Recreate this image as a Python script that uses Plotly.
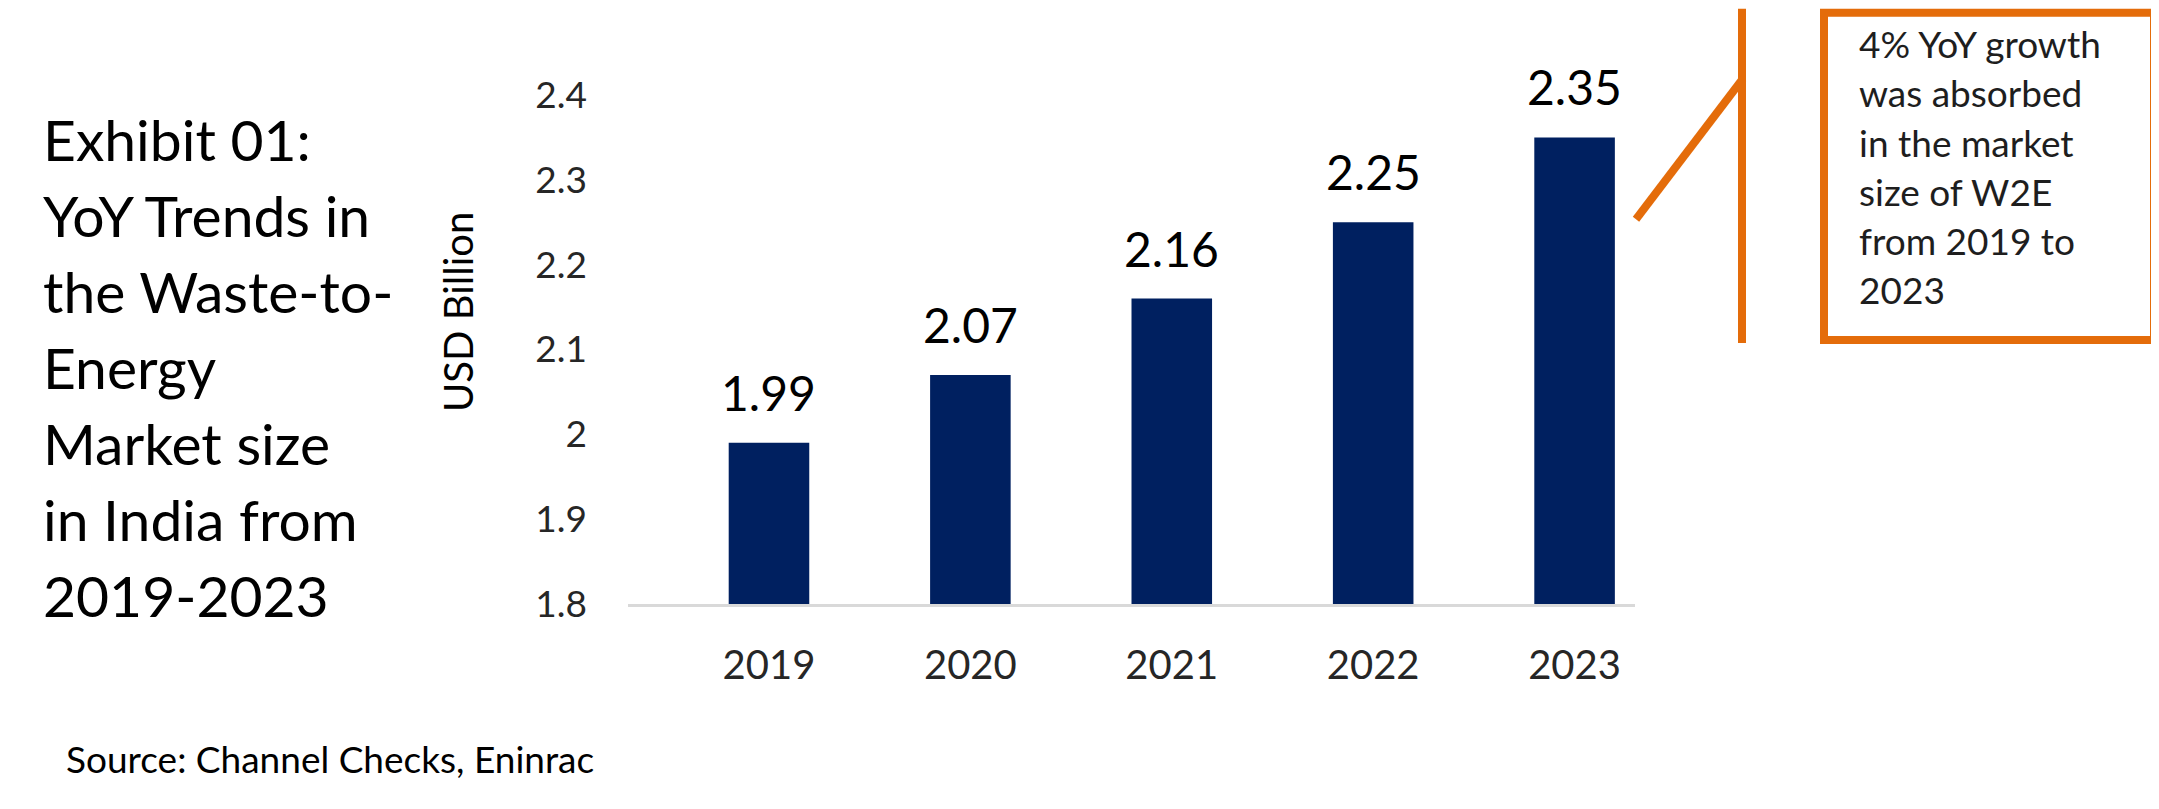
import plotly.graph_objects as go

# ---- data ----
years = ["2019", "2020", "2021", "2022", "2023"]
market_size = [1.99, 2.07, 2.16, 2.25, 2.35]
y_tick_vals = [1.8, 1.9, 2.0, 2.1, 2.2, 2.3, 2.4]
y_tick_text = ["1.8", "1.9", "2", "2.1", "2.2", "2.3", "2.4"]
title_lines = ["Exhibit 01:", "YoY Trends in", "the Waste-to-", "Energy",
               "Market size", "in India from", "2019-2023"]
note_lines = ["4% YoY growth", "was absorbed", "in the market",
              "size of W2E", "from 2019 to", "2023"]
y_title = "USD Billion"
source_text = "Source: Channel Checks, Eninrac"

# ---- layout geometry (page pixels; page has an 8px body margin) ----
W, H = 2159, 809
OFF = 8
L, R, T, B = 628, 1635, 94.5, 604.5
FONT = "Lato, 'Open Sans', sans-serif"
NAVY = "#002060"
ORANGE = "#E46C0A"


def xp(px):
    return (px - L) / (R - L)


def yp(py):
    return (B - py) / (B - T)


fig = go.Figure()
fig.add_trace(go.Bar(
    x=years, y=market_size, width=0.4,
    marker=dict(color=NAVY, line=dict(width=0)),
    hoverinfo="skip",
))

annotations = []
# data labels (category index on the category axis)
for i, v in enumerate(market_size):
    annotations.append(dict(
        x=i, y=v, xref="x", yref="y", text=f"{v:.2f}", showarrow=False,
        yanchor="bottom", xanchor="center", yshift=20,
        font=dict(family=FONT, size=48, color="#000000"),
    ))

# left title, one annotation per line
for i, line in enumerate(title_lines):
    annotations.append(dict(
        x=xp(41), y=yp(139 + 76 * i), xref="paper", yref="paper",
        text=line, showarrow=False, xanchor="left", yanchor="middle",
        font=dict(family=FONT, size=57, color="#000000"),
    ))

# note box text
for i, line in enumerate(note_lines):
    annotations.append(dict(
        x=xp(1857), y=yp(43 + 49.3 * i), xref="paper", yref="paper",
        text=line, showarrow=False, xanchor="left", yanchor="middle",
        font=dict(family=FONT, size=37, color="#1e1e1e"),
    ))

# y axis title
annotations.append(dict(
    x=xp(458), y=yp(312), xref="paper", yref="paper", text=y_title,
    showarrow=False, textangle=-90, xanchor="center", yanchor="middle",
    font=dict(family=FONT, size=40, color="#000000"),
))

# source
annotations.append(dict(
    x=xp(64), y=yp(759), xref="paper", yref="paper", text=source_text,
    showarrow=False, xanchor="left", yanchor="middle",
    font=dict(family=FONT, size=37, color="#000000"),
))

shapes = [
    # vertical bracket line
    dict(type="line", xref="paper", yref="paper",
         x0=xp(1742), x1=xp(1742), y0=yp(8), y1=yp(343),
         line=dict(color=ORANGE, width=8)),
    # diagonal pointer
    dict(type="line", xref="paper", yref="paper",
         x0=xp(1636), y0=yp(219), x1=xp(1743), y1=yp(78),
         line=dict(color=ORANGE, width=8)),
    # note box
    dict(type="rect", xref="paper", yref="paper",
         x0=xp(1824), x1=xp(2154), y0=yp(12), y1=yp(340),
         line=dict(color=ORANGE, width=8), fillcolor="rgba(0,0,0,0)"),
]

fig.update_layout(
    width=W, height=H,
    margin=dict(l=L - OFF, r=W - (R - OFF), t=T - OFF, b=H - (B - OFF), pad=0),
    paper_bgcolor="white", plot_bgcolor="white",
    showlegend=False,
    annotations=annotations,
    shapes=shapes,
    xaxis=dict(
        type="category", range=[-0.7, 4.3],
        showgrid=False, zeroline=False,
        showline=True, linecolor="#d9d9d9", linewidth=3,
        ticks="", ticklabelstandoff=24,
        tickfont=dict(family=FONT, size=40, color="#262626"),
        fixedrange=True,
    ),
    yaxis=dict(
        range=[1.8, 2.4], tickvals=y_tick_vals, ticktext=y_tick_text,
        showgrid=False, zeroline=False, showline=False,
        ticks="", ticklabelstandoff=40,
        tickfont=dict(family=FONT, size=37, color="#262626"),
        fixedrange=True,
    ),
)

fig.write_html("out.html")
